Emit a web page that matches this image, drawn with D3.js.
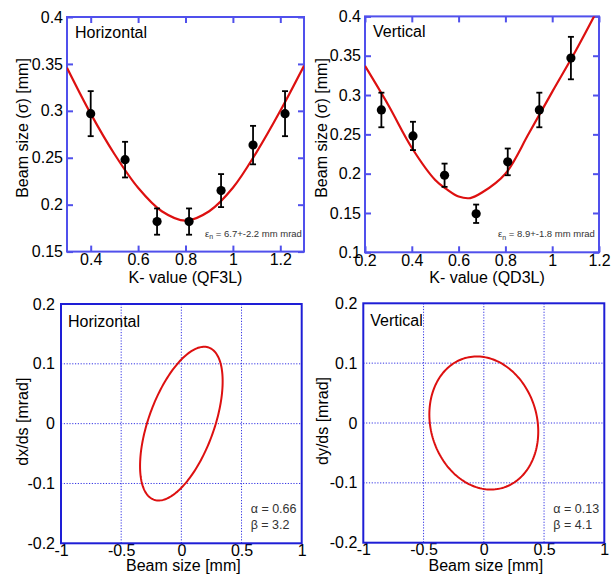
<!DOCTYPE html>
<html>
<head>
<meta charset="utf-8">
<script src="https://cdn.jsdelivr.net/npm/d3@7/dist/d3.min.js"></script>
<style>
  html, body { margin: 0; padding: 0; background: #fff; }
  svg { display: block; font-family: "Liberation Sans", Arial, sans-serif; }
</style>
</head>
<body>
<svg id="chart" width="615" height="574"></svg>
<script>
// ---- Quadrupole scan: measured beam sizes (K-value vs sigma, with error) ----
const kH = [0.40, 0.545, 0.68, 0.815, 0.95, 1.085, 1.22];
const sigmaH = [0.297, 0.248, 0.182, 0.182, 0.215, 0.2635, 0.297];
const errH = [0.024, 0.019, 0.014, 0.014, 0.0176, 0.0205, 0.024];

const kV = [0.27, 0.405, 0.54, 0.675, 0.81, 0.945, 1.08];
const sigmaV = [0.281, 0.248, 0.198, 0.149, 0.215, 0.281, 0.347];
const errV = [0.022, 0.018, 0.0148, 0.0117, 0.017, 0.022, 0.027];

// fitted beam-size curves
const fitKH = [0.3, 0.4, 0.5, 0.6, 0.7, 0.8, 0.9, 1.0, 1.1, 1.2, 1.3];
const fitSigmaH = [0.346, 0.297, 0.254, 0.218, 0.193, 0.183, 0.193, 0.218, 0.256, 0.300, 0.348];
const fitKV = [0.2, 0.3, 0.4, 0.5, 0.55, 0.6, 0.65, 0.7, 0.8, 0.9, 1.0, 1.1, 1.2];
const fitSigmaV = [0.337, 0.287, 0.233, 0.192, 0.180, 0.171, 0.169, 0.176, 0.200, 0.251, 0.304, 0.356, 0.412];

// fit results
const emitLabels = ["6.7+-2.2 mm mrad", "8.9+-1.8 mm mrad"];

// ---- Phase-space ellipses from Twiss parameters ----
const twissAlpha = [0.66, 0.13];
const twissBeta = [3.2, 4.1];
const ellipseEmit = [0.0368, 0.0498];   // mm mrad (geometric)
const slopeSign = [-1, 1];              // x' sign convention of each plane

// ---- tick values ----
const ticksKH = [0.4, 0.6, 0.8, 1.0, 1.2];
const ticksSigmaH = [0.15, 0.2, 0.25, 0.3, 0.35, 0.4];
const ticksKV = [0.2, 0.4, 0.6, 0.8, 1.0, 1.2];
const ticksSigmaV = [0.1, 0.15, 0.2, 0.25, 0.3, 0.35, 0.4];
const ticksPos = [-1, -0.5, 0, 0.5, 1];
const ticksSlope = [-0.2, -0.1, 0, 0.1, 0.2];

const svg = d3.select("#chart");
const fmt = d => String(+d.toFixed(2));

const FRAME_TOP = "#5050ec";
const FRAME_BOT = "#1e1ed6";
const RED = "#dd1010";

function scanPanel(o) {
  const g = svg.append("g");
  const x = d3.scaleLinear().domain(o.xDomain).range([o.x0, o.x1]);
  const y = d3.scaleLinear().domain(o.yDomain).range([o.y1, o.y0]);

  const clipId = "clip" + o.id;
  svg.append("clipPath").attr("id", clipId)
    .append("rect").attr("x", o.x0).attr("y", o.y0)
    .attr("width", o.x1 - o.x0).attr("height", o.y1 - o.y0);

  // inward ticks on all four sides
  const axes = [
    [d3.axisBottom(x).tickValues(o.xTicks).tickFormat(fmt), `translate(0,${o.y1})`, 2.5],
    [d3.axisTop(x).tickValues(o.xTicks).tickFormat(""), `translate(0,${o.y0})`, 0],
    [d3.axisLeft(y).tickValues(o.yTicks).tickFormat(fmt), `translate(${o.x0},0)`, 4],
    [d3.axisRight(y).tickValues(o.yTicks).tickFormat(""), `translate(${o.x1},0)`, 0]
  ];
  axes.forEach(([ax, tr, pad]) => {
    const a = g.append("g").attr("transform", tr)
      .call(ax.tickSizeInner(-6).tickSizeOuter(0).tickPadding(pad));
    a.select(".domain").remove();
    a.selectAll("line").attr("stroke", FRAME_TOP).attr("stroke-width", 2);
    a.selectAll("text").attr("fill", "#000").style("font-size", "16px")
      .style("font-family", "Liberation Sans, Arial, sans-serif");
  });

  g.append("rect").attr("x", o.x0).attr("y", o.y0)
    .attr("width", o.x1 - o.x0).attr("height", o.y1 - o.y0)
    .attr("fill", "none").attr("stroke", FRAME_TOP).attr("stroke-width", 2);

  // fit curve
  const line = d3.line().x(d => x(d[0])).y(d => y(d[1])).curve(d3.curveCatmullRom.alpha(0.5));
  g.append("path").datum(d3.zip(o.fitK, o.fitS))
    .attr("clip-path", `url(#${clipId})`)
    .attr("d", line).attr("fill", "none").attr("stroke", RED).attr("stroke-width", 2.2);

  // error bars
  const pts = o.k.map((k, i) => ({ k, s: o.s[i], e: o.e[i] }));
  const eb = g.append("g").attr("stroke", "#000").attr("stroke-width", 1.8);
  eb.selectAll(".v").data(pts).join("line")
    .attr("x1", d => x(d.k)).attr("x2", d => x(d.k))
    .attr("y1", d => y(d.s - d.e)).attr("y2", d => y(d.s + d.e));
  eb.selectAll(".t").data(pts).join("line")
    .attr("x1", d => x(d.k) - 3).attr("x2", d => x(d.k) + 3)
    .attr("y1", d => y(d.s + d.e)).attr("y2", d => y(d.s + d.e));
  eb.selectAll(".b").data(pts).join("line")
    .attr("x1", d => x(d.k) - 3).attr("x2", d => x(d.k) + 3)
    .attr("y1", d => y(d.s - d.e)).attr("y2", d => y(d.s - d.e));
  g.append("g").selectAll("circle").data(pts).join("circle")
    .attr("cx", d => x(d.k)).attr("cy", d => y(d.s)).attr("r", 4.6).attr("fill", "#000");

  // labels
  g.append("text").attr("x", o.x0 + o.nameDx).attr("y", o.y0 + 21)
    .style("font-size", "16px").text(o.name);
  const em = g.append("text").attr("x", o.emitX).attr("y", o.y1 - 15)
    .attr("fill", "#333").style("font-size", "9.5px");
  em.append("tspan").text("ε");
  em.append("tspan").attr("dy", 2.5).style("font-size", "7px").text("n");
  em.append("tspan").attr("dy", -2.5).text(" = " + o.emit);

  g.append("text").attr("x", (o.x0 + o.x1) / 2 + o.xtDx).attr("y", 283)
    .attr("text-anchor", "middle").style("font-size", "16px").text(o.xTitle);
  g.append("text").attr("transform", `translate(${o.ytX},128) rotate(-90)`)
    .attr("text-anchor", "middle").style("font-size", "16px")
    .text("Beam size (σ)  [mm]");
}

function phasePanel(o) {
  const g = svg.append("g");
  const x = d3.scaleLinear().domain([-1, 1]).range([o.x0, o.x1]);
  const y = d3.scaleLinear().domain([-0.2, 0.2]).range([o.y1, o.y0]);

  // dotted grid
  const grid = g.append("g").attr("stroke", "#3434e4").attr("stroke-width", 1)
    .attr("stroke-dasharray", "1.2,1.6");
  grid.selectAll(".gx").data(ticksPos.slice(1, -1)).join("line")
    .attr("x1", d => x(d)).attr("x2", d => x(d)).attr("y1", o.y0).attr("y2", o.y1);
  grid.selectAll(".gy").data(ticksSlope.slice(1, -1)).join("line")
    .attr("x1", o.x0).attr("x2", o.x1).attr("y1", d => y(d)).attr("y2", d => y(d));

  const ax = g.append("g").attr("transform", `translate(0,${o.y1})`)
    .call(d3.axisBottom(x).tickValues(ticksPos).tickFormat(fmt).tickSize(0).tickPadding(1));
  const ay = g.append("g").attr("transform", `translate(${o.x0},0)`)
    .call(d3.axisLeft(y).tickValues(ticksSlope).tickFormat(fmt).tickSize(0).tickPadding(6));
  [ax, ay].forEach(a => {
    a.select(".domain").remove();
    a.selectAll("text").attr("fill", "#000").style("font-size", "16px")
      .style("font-family", "Liberation Sans, Arial, sans-serif");
  });

  g.append("rect").attr("x", o.x0).attr("y", o.y0)
    .attr("width", o.x1 - o.x0).attr("height", o.y1 - o.y0)
    .attr("fill", "none").attr("stroke", FRAME_BOT).attr("stroke-width", 2);

  // ellipse  gamma*x^2 + 2*alpha*x*x' + beta*x'^2 = emittance
  const a = twissAlpha[o.i], b = twissBeta[o.i], e = ellipseEmit[o.i], sg = slopeSign[o.i];
  const phases = d3.range(0, 2 * Math.PI + 0.001, Math.PI / 90);
  const pts = phases.map(t => [
    Math.sqrt(e * b) * Math.cos(t),
    -sg * Math.sqrt(e / b) * (a * Math.cos(t) + Math.sin(t))
  ]);
  g.append("path").datum(pts)
    .attr("d", d3.line().x(d => x(d[0])).y(d => y(d[1])))
    .attr("fill", "none").attr("stroke", RED).attr("stroke-width", 2);

  // plane name, cut at the first grid line
  const cid = "pclip" + o.i;
  svg.append("clipPath").attr("id", cid).append("rect")
    .attr("x", o.x0).attr("y", o.y0).attr("width", o.nameClip).attr("height", 40);
  g.append("text").attr("x", o.x0 + 7).attr("y", o.y0 + 23)
    .attr("clip-path", `url(#${cid})`).style("font-size", "16px").text(o.name);

  g.append("text").attr("x", o.x1 - 51).attr("y", o.y1 - 30)
    .attr("fill", "#333").style("font-size", "12.5px").text("α = " + twissAlpha[o.i]);
  g.append("text").attr("x", o.x1 - 51).attr("y", o.y1 - 14)
    .attr("fill", "#333").style("font-size", "12.5px").text("β = " + twissBeta[o.i]);

  g.append("text").attr("x", (o.x0 + o.x1) / 2 + 2).attr("y", 571)
    .attr("text-anchor", "middle").style("font-size", "16px").text("Beam size [mm]");
  g.append("text").attr("transform", `translate(${o.ytX},${(o.y0 + o.y1) / 2 - 2}) rotate(-90)`)
    .attr("text-anchor", "middle").style("font-size", "16px").text(o.yTitle);
}

scanPanel({
  id: "h", x0: 67, x1: 304, y0: 17, y1: 251.6,
  xDomain: [0.3, 1.3], yDomain: [0.15, 0.4], xTicks: ticksKH, yTicks: ticksSigmaH,
  k: kH, s: sigmaH, e: errH, fitK: fitKH, fitS: fitSigmaH,
  name: "Horizontal", nameDx: 8, emit: emitLabels[0], emitX: 205,
  xTitle: "K- value (QF3L)", xtDx: 0, ytX: 28
});
scanPanel({
  id: "v", x0: 365, x1: 599, y0: 16.4, y1: 252.3,
  xDomain: [0.2, 1.2], yDomain: [0.1, 0.4], xTicks: ticksKV, yTicks: ticksSigmaV,
  k: kV, s: sigmaV, e: errV, fitK: fitKV, fitS: fitSigmaV,
  name: "Vertical", nameDx: 8, emit: emitLabels[1], emitX: 498,
  xTitle: "K- value (QD3L)", xtDx: 5, ytX: 327
});
phasePanel({ i: 0, x0: 61, x1: 301.7, y0: 304, y1: 543.3, name: "Horizontal", nameClip: 200,
  yTitle: "dx/ds [mrad]", ytX: 28 });
phasePanel({ i: 1, x0: 363.3, x1: 604.3, y0: 303.3, y1: 542.7, name: "Vertical", nameClip: 59,
  yTitle: "dy/ds [mrad]", ytX: 328 });
</script>
</body>
</html>
